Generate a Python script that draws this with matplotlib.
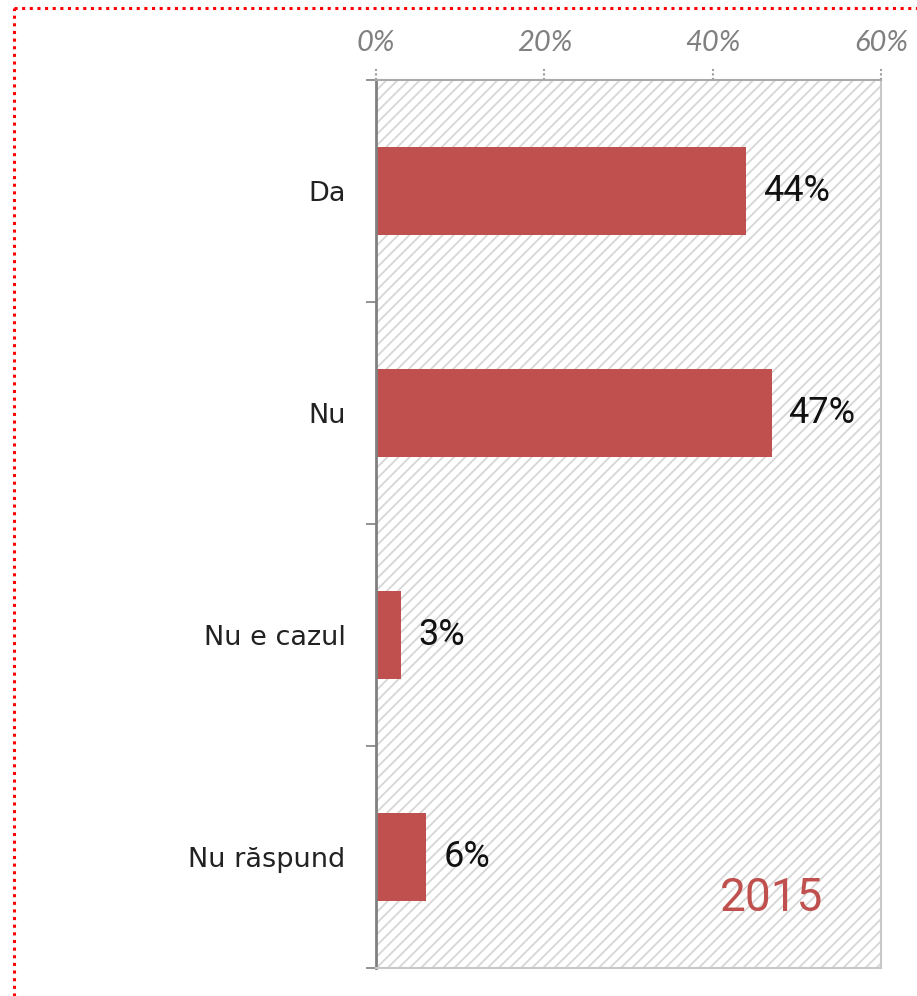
#!/usr/bin/env python3
"""survey answers, 2015 - horizontal bar chart"""

import matplotlib

matplotlib.use("Agg")
import matplotlib.pyplot as plt
from matplotlib.lines import Line2D
from matplotlib.patches import Rectangle

# data
categories = ["Da", "Nu", "Nu e cazul", "Nu răspund"]
values = [44, 47, 3, 6]  # percent
x_ticks = [0, 20, 40, 60]
year_label = "2015"

bar_color = "#C0504D"

plt.rcParams["hatch.linewidth"] = 1.3

fig = plt.figure(figsize=(9.17, 9.96), dpi=100)
ax = fig.add_axes([0.410, 0.0281, 0.551, 0.8916])

# hatched background of the plot area
bg = Rectangle((0, 0), 1, 1, transform=ax.transAxes, fill=False,
               hatch="///", edgecolor="#d6d6d6", lw=0, zorder=0)
ax.add_patch(bg)

pos = list(range(len(categories)))
ax.barh(pos, values, height=0.4, color=bar_color, zorder=2)

for p, v in zip(pos, values):  # value labels right of each bar
    ax.annotate(f"{v}%", (v, p), xytext=(12, 0), textcoords="offset points",
                va="center", ha="left", fontsize=26,
                family=["Liberation Sans Narrow", "Roboto"], color="#111111")

ax.set_xlim(0, 60)
ax.set_ylim(len(categories) - 0.5, -0.5)

# x axis on top, italic grey labels
ax.xaxis.tick_top()
ax.set_xticks(x_ticks)
ax.set_xticklabels([f"{t}%" for t in x_ticks], fontsize=21, style="italic",
                   family="Lato", color="#808080")
ax.tick_params(axis="x", which="major", length=0, pad=17)
# little dotted tick marks above the top edge
ax.vlines(x_ticks, 1.0, 1.012, transform=ax.get_xaxis_transform(),
          colors="#999999", linestyles=(0, (1, 1.2)), lw=1.5, clip_on=False)

# y axis: labels at categories, ticks at the boundaries
ax.set_yticks(pos)
ax.set_yticklabels(categories, fontsize=19.5, family="DejaVu Sans",
                   color="#222222")
ax.tick_params(axis="y", which="major", length=0, pad=22)
ax.set_yticks([p - 0.5 for p in pos] + [len(pos) - 0.5], minor=True)
ax.tick_params(axis="y", which="minor", length=7, width=1.2, color="#808080")

for s in ["right", "bottom"]:
    ax.spines[s].set_color("#c8c8c8")
    ax.spines[s].set_linewidth(1.5)
ax.spines["left"].set_color("#808080")
ax.spines["left"].set_linewidth(2)
ax.spines["top"].set_color("#aaaaaa")
ax.spines["top"].set_linestyle((0, (1, 1)))
ax.spines["top"].set_linewidth(1.5)

ax.text(0.782, 0.079, year_label, transform=ax.transAxes, ha="center",
        va="center", fontsize=33, family="Roboto", color=bar_color)

# red dotted frame (top and left visible)
fx = 14 / 917
fy = 1 - 8 / 996
fig.add_artist(Line2D([fx, 1], [fy, fy], transform=fig.transFigure,
                      color="red", lw=2.2, linestyle=(0, (1, 1.5))))
fig.add_artist(Line2D([fx, fx], [0, fy], transform=fig.transFigure,
                      color="red", lw=2.2, linestyle=(0, (1, 1.5))))

fig.savefig("out.png", dpi=100)
